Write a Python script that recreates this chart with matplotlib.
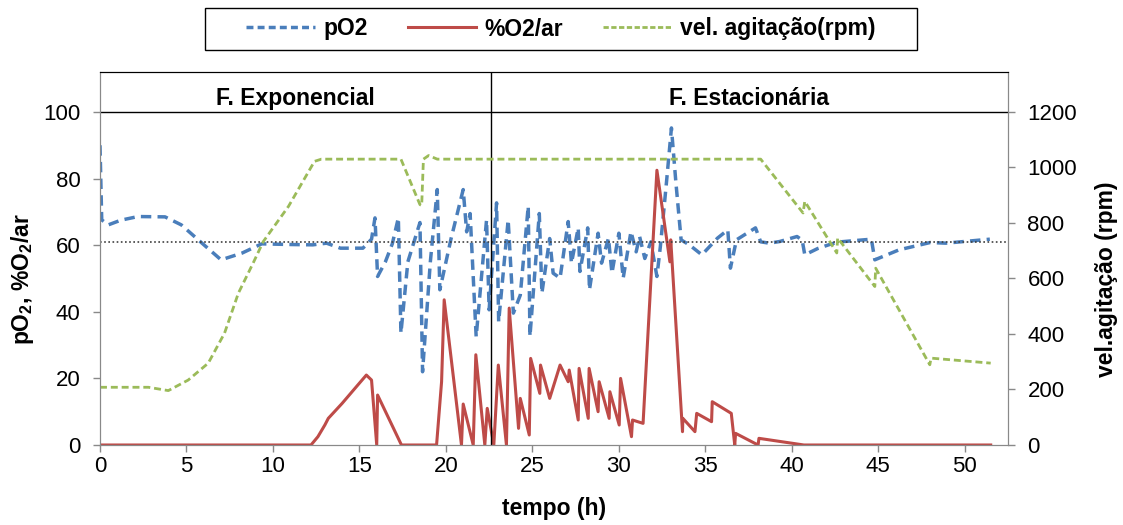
import matplotlib
matplotlib.use("Agg")
import matplotlib.pyplot as plt
from matplotlib.lines import Line2D
from matplotlib.patches import Rectangle

plt.rcParams['font.family'] = ['Liberation Sans', 'DejaVu Sans']
plt.rcParams['mathtext.fontset'] = 'custom'
plt.rcParams['mathtext.rm'] = 'Liberation Sans:bold'
plt.rcParams['mathtext.bf'] = 'Liberation Sans:bold'
plt.rcParams['mathtext.it'] = 'Liberation Sans:bold'

# pO2 (% saturation)
t_po2 = [0, 0.1, 0.48, 1.2, 2.2, 3.76, 4.7, 5.9, 7.0, 8.2, 9.35, 11.0, 12.3, 13.1, 13.9, 15.2,
         15.7, 15.9, 16.05, 16.5, 16.9, 17.25, 17.4, 17.8, 18.5, 18.65, 19.1, 19.5, 19.65, 20.3,
         21.0, 21.2, 21.4, 21.75, 22.35, 22.5, 22.93, 23.05, 23.6, 23.9, 24.3, 24.76, 24.86,
         25.4, 25.55, 26.0, 26.2, 26.6, 27.07, 27.26, 27.65, 27.75, 28.2, 28.3, 28.8, 29.0,
         29.4, 29.6, 30.0, 30.25, 30.7, 31.0, 31.2, 31.5, 31.85, 32.2, 32.4, 32.75, 33.04,
         33.3, 33.6, 34.1, 34.8, 35.7, 36.3, 36.45, 36.8, 37.9, 38.2, 38.7, 39.3, 40.3, 40.6,
         40.75, 41.5, 42.3, 42.8, 44.6, 44.8, 46.2, 48.0, 48.9, 51.45]
po2 = [90, 67.6, 66.1, 67.5, 68.6, 68.5, 66.1, 60.6, 55.6, 57.6, 60.4, 60.2, 60.1, 60.6, 59.1, 59.1,
       61.8, 68.2, 50.6, 55, 60.4, 68.2, 33.6, 55, 66.8, 22, 55, 76.7, 46.6, 62,
       76.7, 64, 69.5, 32.5, 67.6, 40.6, 72.7, 37, 67.6, 39.6, 45, 71.7, 32.6,
       69.5, 45.6, 62, 51.6, 50.1, 67.1, 54.6, 65.2, 52.1, 65.2, 46.6, 63.6, 54.6,
       62.1, 51.6, 63.6, 50.1, 64.1, 58, 62.6, 56, 61, 50.6, 59.6, 78.7, 95.2,
       78.7, 61.6, 60, 57.1, 62.1, 64.6, 53.1, 61.6, 65.2, 61, 60.6, 61.1, 62.6, 61.5,
       57.1, 59, 60.4, 61, 61.8, 55.6, 58.6, 60.8, 60.6, 61.8]

# %O2 / ar
t_o2 = [0, 12.2, 12.6, 13.0, 13.2, 14.0, 14.74, 15.4, 15.7, 16.0, 16.05, 17.43, 19.46, 19.75,
        19.9, 20.9, 21.0, 21.58, 21.73, 22.25, 22.39, 22.77, 23.03, 23.5, 23.66, 24.2, 24.3,
        24.82, 24.9, 25.43, 25.47, 26.0, 26.6, 27.07, 27.13, 27.65, 27.7, 28.23, 28.28, 28.8,
        28.86, 29.44, 29.48, 30.02, 30.1, 30.73, 30.79, 31.4, 32.2, 32.95, 33.0, 33.68, 33.7,
        34.4, 34.5, 35.36, 35.4, 36.5, 36.7, 36.75, 38.05, 38.1, 40.7, 51.5]
o2 = [0, 0, 2.5, 6, 8, 12.5, 17, 21, 19.5, 0, 15, 0, 0, 19,
      43.6, 0, 12.3, 0, 27.1, 0, 11, 0, 24, 0, 41.1, 5, 14,
      3, 26, 15.5, 24, 14, 24, 19, 22.5, 7.5, 23, 8, 23, 10,
      19, 8, 16, 6, 20, 2.5, 7.5, 6.5, 82.5, 55, 61.6, 4, 8,
      4, 9.5, 7, 13, 9.5, 0, 3.5, 0, 2, 0, 0]

# agitation speed (rpm)
t_vel = [0, 2.8, 3.95, 5.1, 6.26, 7.2, 8.0, 8.85, 9.44, 10.9, 12.4, 12.8, 17.4, 18.5, 18.6,
         18.7, 19.0, 19.5, 38.2, 40.65, 40.75, 42.6, 42.65, 44.8, 44.85, 47.98, 48.05, 51.5]
vel = [208, 208, 196, 234, 295, 403, 547, 655, 733, 860, 1022, 1030, 1030, 866, 863,
       1030, 1043, 1030, 1030, 836, 878, 692, 746, 571, 637, 289, 313, 295]

setpoint = 61
phase_split = 22.6
phases = ["F. Exponencial", "F. Estacionária"]

blue = "#4A7EBB"
red = "#BE4B48"
green = "#9BBB59"
grey = "#898989"

W, H = 1123, 525
fig = plt.figure(figsize=(W / 100, H / 100), dpi=100)
ax = fig.add_axes([100 / W, 1 - 445 / H, 908 / W, 373 / H])
ax2 = ax.twinx()

xmax = 52.5
ax.set_xlim(0, xmax)
ax.set_ylim(0, 112)
ax2.set_ylim(0, 1344)

ax.plot(t_po2, po2, color=blue, lw=2.5, dashes=(3.0, 1.8))
ax.plot(t_o2, o2, color=red, lw=2.2)
ax2.plot(t_vel, vel, color=green, lw=2.0, dashes=(2.5, 1.4))

ax.axhline(setpoint, color="#404040", lw=1.2, ls=(0, (1, 1.5)))
ax.axhline(100, color="black", lw=1)
ax.axvline(phase_split, color="black", lw=1)
ax.text(phase_split / 2, 102.2, phases[0], ha="center", va="baseline",
        fontsize=16.5, fontweight="bold")
ax.text((phase_split + xmax) / 2, 102.2, phases[1], ha="center", va="baseline",
        fontsize=16.5, fontweight="bold")

ax.set_xticks(range(0, 51, 5))
ax.set_yticks(range(0, 101, 20))
ax2.set_yticks(range(0, 1201, 200))

for a in (ax, ax2):
    for s in ("left", "right", "bottom"):
        a.spines[s].set_color(grey)
    a.spines["top"].set_color("black")
    a.tick_params(colors=grey, labelcolor="black", labelsize=16, length=5, width=1)
ax.tick_params(axis="y", pad=9)
ax2.tick_params(axis="y", pad=9)
ax.tick_params(axis="x", pad=3)

ax.set_xlabel("tempo (h)", fontsize=16.5, fontweight="bold", va="center")
ax.xaxis.set_label_coords(0.5, -0.169)
ax.set_ylabel(r"pO$_2$, %O$_2$/ar", fontsize=16.5, fontweight="bold", va="center")
ax.yaxis.set_label_coords(-0.085, 0.445)
ax2.set_ylabel("vel.agitação (rpm)", fontsize=16.5, fontweight="bold", va="center")
ax2.yaxis.set_label_coords(1.109, 0.445)

# legend box drawn as a plain rectangle (Excel style, wide inner margins)
fig.patches.append(Rectangle((205 / W, 1 - 50 / H), 712 / W, 42 / H, transform=fig.transFigure,
                             facecolor="white", edgecolor="black", lw=1))
handles = [Line2D([], [], color=blue, lw=2.5, dashes=(2.0, 1.2)),
           Line2D([], [], color=red, lw=2.2),
           Line2D([], [], color=green, lw=2.0, dashes=(1.9, 0.9))]
fig.legend(handles, ["pO2", "%O2/ar", "vel. agitação(rpm)"], loc="center",
           bbox_to_anchor=(561 / W, 1 - 29 / H), ncol=3, frameon=False,
           prop={"weight": "bold", "size": 16.5},
           handlelength=3.0, handletextpad=0.35, columnspacing=1.75)

fig.savefig("out.png", dpi=100)
